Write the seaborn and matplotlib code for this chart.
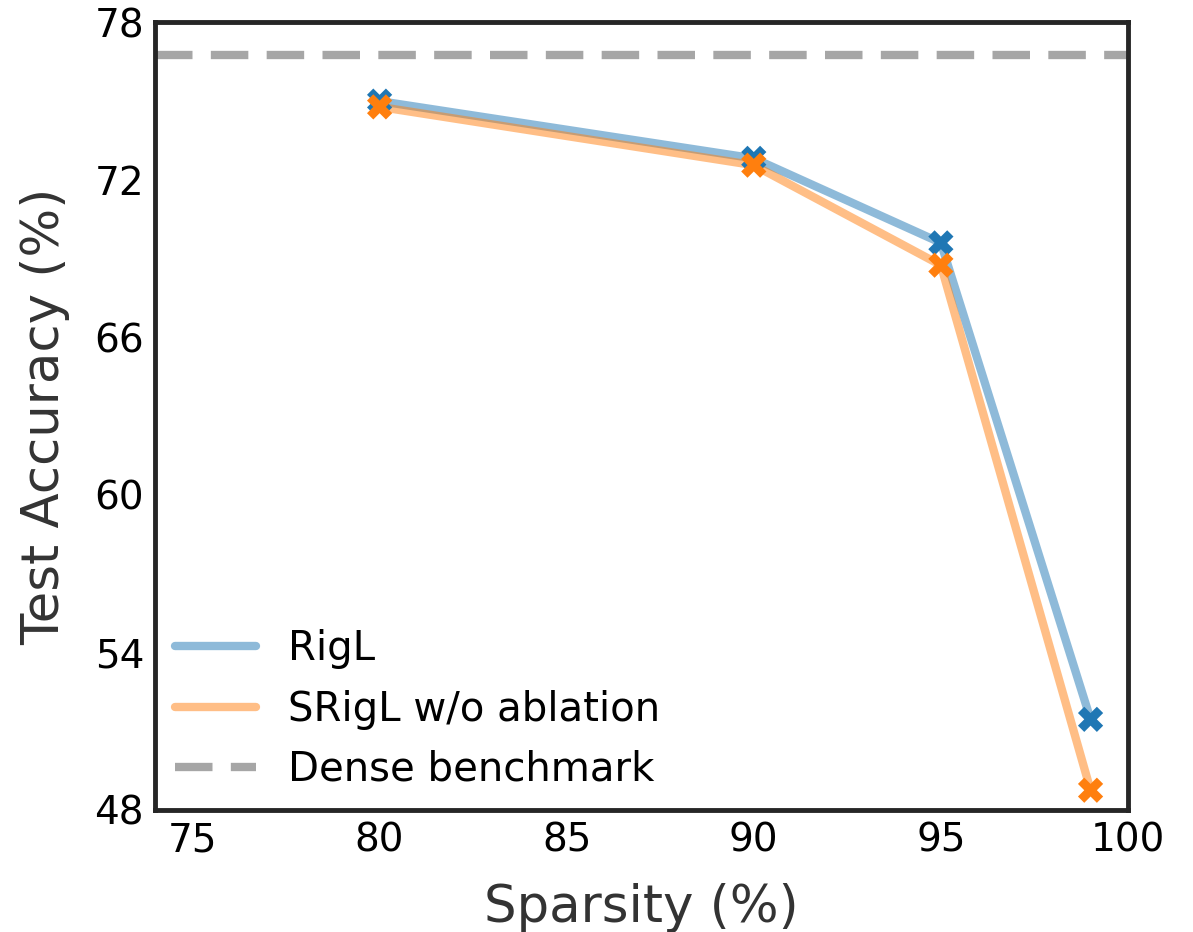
import numpy as np
import pandas as pd
import matplotlib

matplotlib.use("Agg")
import matplotlib.pyplot as plt
import seaborn as sns
from matplotlib.lines import Line2D

sns.set_theme(style="white", context="notebook")
plt.rcParams["font.family"] = ["DejaVu Sans"]

# data
sparsity = [80, 90, 95, 99]
rigl_acc = [75.0, 72.82, 69.6, 51.45]
srigl_acc = [74.78, 72.56, 68.75, 48.75]
dense_acc = 76.75
series_names = ["RigL", "SRigL w/o ablation"]
colors = ["#1f77b4", "#ff7f0e"]

df = pd.DataFrame({
    "sparsity": sparsity * 2,
    "acc": rigl_acc + srigl_acc,
    "method": [series_names[0]] * 4 + [series_names[1]] * 4,
})

fig = plt.figure(figsize=(11.93, 9.32), dpi=100)
ax = fig.add_axes([0.130, 0.131, 0.8155, 0.845])

pal = dict(zip(series_names, colors))
sns.lineplot(data=df, x="sparsity", y="acc", hue="method", palette=pal,
             linewidth=6, alpha=0.5, legend=False, ax=ax, zorder=2)
sns.scatterplot(data=df, x="sparsity", y="acc", hue="method", palette=pal,
                marker="X", s=330, linewidth=0, legend=False, ax=ax, zorder=3)
ax.axhline(dense_acc, color="grey", alpha=0.7, linewidth=6, dashes=(4.5, 2.2), zorder=1)

ax.set_xlim(74, 100)
ax.set_ylim(48, 78)
ax.set_xticks([75, 80, 85, 90, 95, 100])
ax.set_yticks([48, 54, 60, 66, 72, 78])
ax.tick_params(axis="both", labelsize=28, colors="black", length=0, pad=8)
ax.set_xlabel("Sparsity (%)", fontsize=37, color="#333333", labelpad=17)
ax.set_ylabel("Test Accuracy (%)", fontsize=37, color="#333333", labelpad=17)

for sp in ax.spines.values():
    sp.set_linewidth(3.5)
    sp.set_color("#262626")

handles = [
    Line2D([], [], color=colors[0], alpha=0.5, linewidth=6),
    Line2D([], [], color=colors[1], alpha=0.5, linewidth=6),
    Line2D([], [], color="grey", alpha=0.7, linewidth=6, dashes=(4.5, 2.2)),
]
leg = ax.legend(handles, series_names + ["Dense benchmark"], loc="lower left",
                frameon=False, fontsize=29, handlelength=2.0, handletextpad=0.8,
                labelspacing=0.5, borderaxespad=0.2, borderpad=0.3)
for t in leg.get_texts():
    t.set_color("black")

fig.savefig("out.png", dpi=100, facecolor="w")
